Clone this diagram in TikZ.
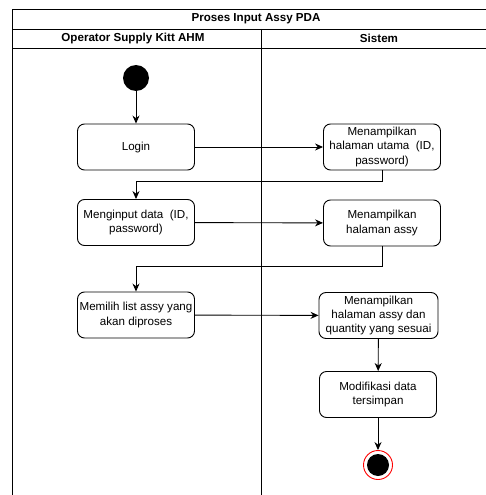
\documentclass[tikz,border=0pt]{standalone}
\usepackage{fontspec}
\setmainfont{Liberation Sans}
\usetikzlibrary{arrows.meta}
\begin{document}
\begin{tikzpicture}[x=1pt,y=-1pt,
  act/.style={draw,rounded corners=7pt,line width=0.9pt,minimum width=117pt,minimum height=46pt,
    align=center,font=\fontsize{11.6}{14.3}\selectfont,inner sep=1pt},
  hdr/.style={font=\bfseries\fontsize{11.6}{13}\selectfont},
  flow/.style={line width=0.9pt,-{Stealth[length=8pt,width=7pt]}},
  lane/.style={line width=0.9pt}]
\useasboundingbox (0,0) rectangle (486,495);
\begin{scope}
\clip (0,0) rectangle (486,495);
% pool frame and lane headers
\draw[lane] (12,495) -- (12,9) -- (490,9);
\draw[lane] (12,29) -- (490,29);
\draw[lane] (12,48) -- (490,48);
\draw[lane] (261,29) -- (261,500);
\end{scope}
\node[hdr] (pool) at (256,19) {Proses Input Assy PDA};
\node[hdr] (laneA) at (133,38.5) {Operator Supply Kitt AHM};
\node[hdr] (laneB) at (379,38.5) {Sistem};

% activities
\node[circle,fill=black,minimum size=26pt,inner sep=0pt] (start) at (136,78) {};
\node[act] (login) at (136,147) {Login};
\node[act] (utama) at (382,147) {Menampilkan\\halaman utama~ (ID,\\password)};
\node[act] (input) at (136,222.5) {Menginput data~ (ID,\\password)};
\node[act] (assy) at (382,223) {Menampilkan\\halaman assy};
\node[act] (pilih) at (136,315) {Memilih list assy yang\\akan diproses};
\node[act,minimum width=119pt] (qty) at (378.5,315.5) {Menampilkan\\halaman assy dan\\quantity yang sesuai};
\node[act] (modif) at (378,394.5) {Modifikasi data\\tersimpan};
\node[circle,draw=red,line width=0.9pt,fill=white,minimum size=29pt,inner sep=0pt] (end) at (378,465) {};
\node[circle,fill=black,minimum size=22pt,inner sep=0pt] (endin) at (end) {};

% control flow
\draw[flow] (start) -- (login);
\draw[flow] (login) -- (utama);
\draw[flow] (utama.south) |- (136,181) -- (input.north);
\draw[flow] (input) -- (assy);
\draw[flow] (assy.south) |- (136,266) -- (pilih.north);
\draw[flow] (pilih) -- (qty);
\draw[flow] (qty) -- (modif);
\draw[flow] (modif) -- (end);
\end{tikzpicture}
\end{document}
